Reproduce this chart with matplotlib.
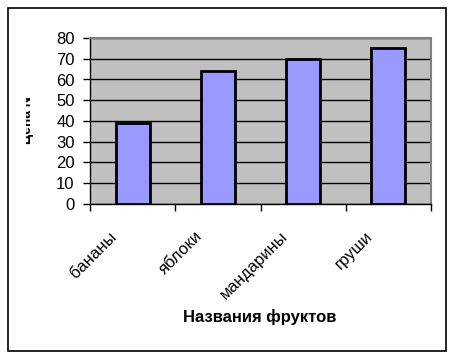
import matplotlib
matplotlib.use("Agg")
import matplotlib.pyplot as plt
from matplotlib.patches import Rectangle
from matplotlib.transforms import ScaledTranslation, Bbox
import numpy as np

categories = ["бананы", "яблоки", "мандарины", "груши"]
values = [39, 64, 70, 75]
yticks = [0, 10, 20, 30, 40, 50, 60, 70, 80]
xlabel = "Названия фруктов"
ylabel = "Цена N"

W, H = 455, 358
fig = plt.figure(figsize=(W / 100, H / 100), dpi=100)
fig.patch.set_facecolor("white")

# outer border
fig.add_artist(Rectangle((8 / W, 1 - 351 / H), 438 / W, 343 / H, transform=fig.transFigure,
                         fill=False, edgecolor="black", linewidth=1.2))

ax = fig.add_axes([90 / W, 1 - 204 / H, 341 / W, 166 / H])
ax.set_facecolor("#C0C0C0")
x = np.arange(len(categories))
ax.bar(x, values, width=0.4, color="#9999FF", edgecolor="black", linewidth=2, zorder=3)
ax.set_xlim(-0.5, len(categories) - 0.5)
ax.set_ylim(0, 80)
ax.set_yticks(yticks)
ax.yaxis.grid(True, color="black", linewidth=1, zorder=1)
ax.set_axisbelow(True)
ax.tick_params(axis="y", direction="out", length=5, width=1, pad=6, labelsize=12, colors="black")
for lab in ax.get_yticklabels():
    lab.set_family(["Liberation Sans", "DejaVu Sans"])

# category boundary ticks
ax.set_xticks(np.arange(-0.5, len(categories), 1.0), minor=True)
ax.set_xticks(x)
ax.set_xticklabels(categories, rotation=45, ha="right", va="center", rotation_mode="anchor",
                   fontsize=12, family=["Liberation Sans", "DejaVu Sans"])
ax.tick_params(axis="x", which="major", length=0, pad=0)
ax.tick_params(axis="x", which="minor", direction="out", length=5, width=1)
off = ScaledTranslation(-18 / 100, -30 / 100, fig.dpi_scale_trans)
for lab in ax.get_xticklabels():
    lab.set_transform(lab.get_transform() + off)

for s in ["top", "right"]:
    ax.spines[s].set_color("#808080")
    ax.spines[s].set_linewidth(1.5)
for s in ["left", "bottom"]:
    ax.spines[s].set_color("black")
    ax.spines[s].set_linewidth(1)

fig.text(260 / W, 1 - 317 / H, xlabel, ha="center", va="center", fontsize=12, fontweight="bold",
         family=["Liberation Sans", "DejaVu Sans"])

# clipped y label (only partly visible, as in the reference)
t = fig.text(27 / W, 1 - 120 / H, ylabel, ha="center", va="center", rotation=90, fontsize=10,
             fontweight="bold", family=["Liberation Sans", "DejaVu Sans"])
t.set_clip_box(Bbox.from_extents(26, 0, 40, H))
t.set_clip_on(True)

fig.savefig("out.png", dpi=100)
